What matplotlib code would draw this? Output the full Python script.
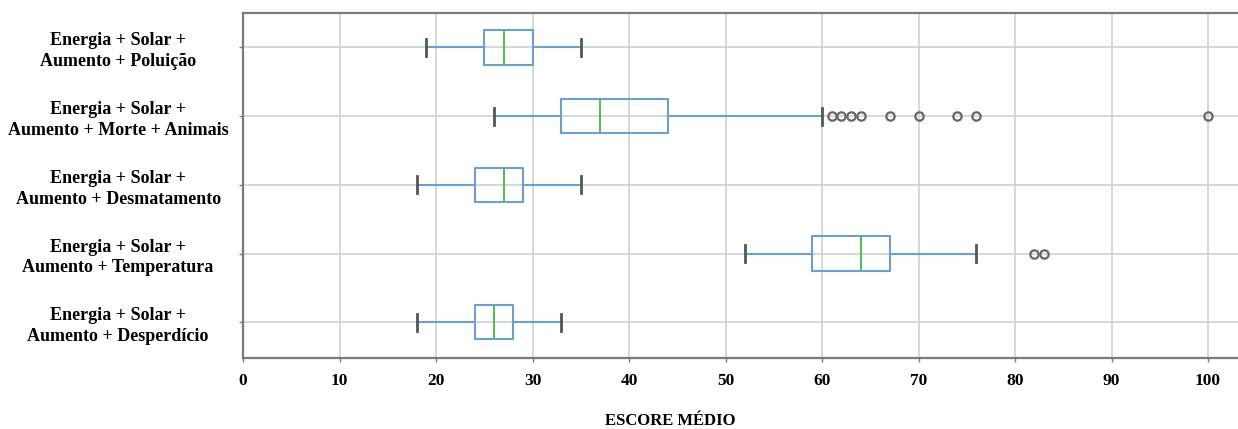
import matplotlib.pyplot as plt

# Box statistics (top row first)
labels = ['Energia + Solar +\nAumento + Poluição',
          'Energia + Solar +\nAumento + Morte + Animais',
          'Energia + Solar +\nAumento + Desmatamento',
          'Energia + Solar +\nAumento + Temperatura',
          'Energia + Solar +\nAumento + Desperdício']
whis_low = [19, 26, 18, 52, 18]
q1 = [25, 33, 24, 59, 24]
median = [27, 37, 27, 64, 26]
q3 = [30, 44, 29, 67, 28]
whis_high = [35, 60, 35, 76, 33]
outliers = [[], [61, 62, 63, 64, 67, 70, 74, 76, 100], [], [82, 83], []]

# bottom row first for bxp
stats = []
for i in reversed(range(len(labels))):
    stats.append(dict(label=labels[i], whislo=whis_low[i], q1=q1[i], med=median[i],
                      q3=q3[i], whishi=whis_high[i], fliers=outliers[i]))

plt.rcParams['font.family'] = 'Liberation Serif'

fig = plt.figure(figsize=(12.38, 4.29), dpi=100)
ax = fig.add_axes([0.1963, 0.1655, 0.8107, 0.804])

box_col = '#6a9fd0'
ax.bxp(stats, vert=False, widths=0.5, patch_artist=False,
       boxprops=dict(color=box_col, linewidth=1.5),
       whiskerprops=dict(color=box_col, linewidth=1.5),
       medianprops=dict(color='#5cb85c', linewidth=1.5),
       capprops=dict(color='#555555', linewidth=2),
       flierprops=dict(marker='o', markersize=6, markerfacecolor='none',
                       markeredgecolor='#666666', markeredgewidth=1.6))

ax.set_xlim(0, 104)
ax.set_ylim(0.48, 5.5)
ax.set_xticks(range(0, 101, 10))
ax.grid(True, color='#d4d4d4', linewidth=1.3)
ax.set_axisbelow(True)

for s in ax.spines.values():
    s.set_color('#7a7a7a')
    s.set_linewidth(1.6)

ax.tick_params(axis='x', length=3, width=1, color='#7a7a7a', labelsize=12.5, pad=8)
ax.tick_params(axis='y', length=3, width=1, color='#7a7a7a', labelsize=13)
for t in ax.get_yticklabels():
    t.set_fontweight('bold')
    t.set_multialignment('center')
    t.set_horizontalalignment('center')
    t.set_linespacing(1.3)
    t.set_x(-0.1155)
for t in ax.get_xticklabels():
    t.set_fontweight('bold')

ax.set_xlabel('ESCORE MÉDIO', fontsize=12, fontweight='bold')
ax.xaxis.set_label_coords(0.4254, -0.16)
ax.xaxis.label.set_verticalalignment('top')

fig.savefig('out.png', dpi=100)
